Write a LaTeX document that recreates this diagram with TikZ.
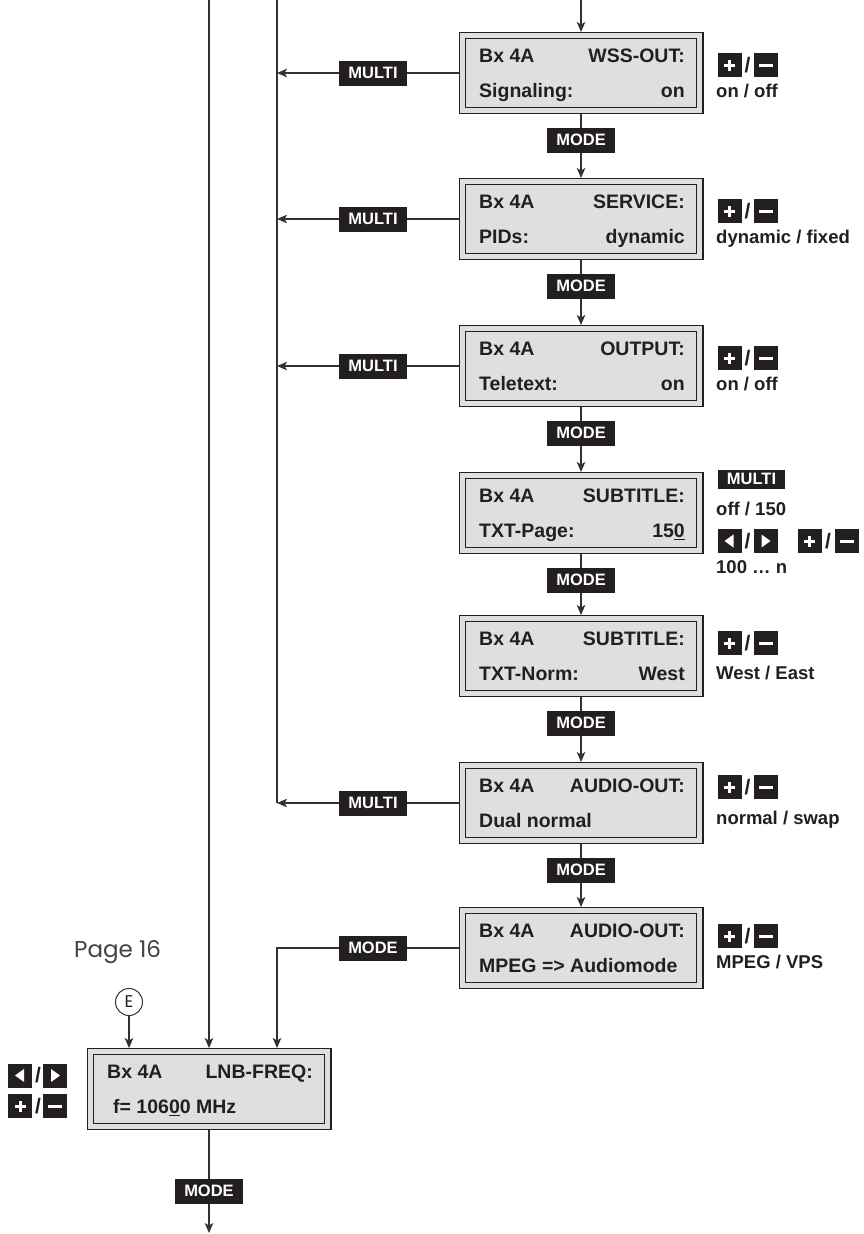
\documentclass[tikz,border=0pt]{standalone}
\usepackage{fontspec}
\setmainfont{Liberation Sans}
\newfontfamily\pagefont{Poppins}
\usetikzlibrary{arrows.meta,calc}
\definecolor{lcdgray}{RGB}{222,223,225}
\definecolor{ink}{RGB}{35,31,32}
\definecolor{linec}{RGB}{50,50,50}
\newcommand\myul[1]{\setbox0\hbox{#1}\rlap{\rule[-3.2pt]{\wd0}{1.6pt}}\box0\relax}
\newcommand\lcdbox[7]{%
 \node[lcd] (#1) at (#2,{#3+41}) {};
 \node[lcdtxt,anchor=base west] (#1a) at ({#2-102},{#3+30}) {#4};
 \node[lcdtxt,anchor=base east] (#1b) at ({#2+104},{#3+30}) {#5};
 \node[lcdtxt,anchor=base west] (#1c) at ({#2-102},{#3+65}) {#6};
 \node[lcdtxt,anchor=base east] (#1d) at ({#2+104},{#3+65}) {#7};}
\newcommand\pmkeys[2]{%
 \node[pluskey] (#1p) at (729.5,#2) {};
 \node[slash] (#1s) at (747.5,#2) {/};
 \node[minuskey] (#1m) at (765.5,#2) {};}
\newcommand\pbc{path picture bounding box.center}
\begin{document}
\begin{tikzpicture}[x=1pt,y=-1pt,
 lcd/.style={draw=ink, line width=1.1pt, double=lcdgray, double distance=5pt, fill=lcdgray,
   minimum width=237.8pt, minimum height=74.8pt, inner sep=0pt, outer sep=3.6pt},
 lcdtxt/.style={font=\bfseries\fontsize{19.5}{20}\selectfont, text=ink, inner sep=0pt},
 key/.style={fill=ink, text=white, font=\bfseries\fontsize{16.5}{17}\selectfont,
   minimum width=68pt, minimum height=25pt, inner sep=0pt},
 ikey/.style={fill=ink, minimum width=24pt, minimum height=24pt, inner sep=0pt},
 pluskey/.style={ikey, path picture={
   \fill[white] ([xshift=-5.5pt,yshift=-1.5pt]\pbc) rectangle ([xshift=5.5pt,yshift=1.5pt]\pbc);
   \fill[white] ([xshift=-1.5pt,yshift=-5.5pt]\pbc) rectangle ([xshift=1.5pt,yshift=5.5pt]\pbc);}},
 minuskey/.style={ikey, path picture={
   \fill[white] ([xshift=-7pt,yshift=-1.5pt]\pbc) rectangle ([xshift=7pt,yshift=1.5pt]\pbc);}},
 leftkey/.style={ikey, path picture={
   \fill[white] ([xshift=4pt,yshift=-6.5pt]\pbc) -- ([xshift=4pt,yshift=6.5pt]\pbc) -- ([xshift=-5pt]\pbc) -- cycle;}},
 rightkey/.style={ikey, path picture={
   \fill[white] ([xshift=-4pt,yshift=-6.5pt]\pbc) -- ([xshift=-4pt,yshift=6.5pt]\pbc) -- ([xshift=5pt]\pbc) -- cycle;}},
 slash/.style={font=\bfseries\fontsize{21}{21}\selectfont, text=ink, inner sep=0pt},
 hint/.style={font=\bfseries\fontsize{18.5}{19}\selectfont, text=ink, inner sep=0pt, anchor=base west},
 ln/.style={draw=linec, line width=1.2pt},
 arr/.style={ln, -{Stealth[length=10pt,width=8.5pt,inset=2.5pt]}}]
\useasboundingbox[fill=white] (0,0) rectangle (863,1234);

% LCD boxes
\lcdbox{b1}{581}{32}{Bx 4A}{WSS-OUT:}{Signaling:}{on}
\lcdbox{b2}{581}{178}{Bx 4A}{SERVICE:}{PIDs:}{dynamic}
\lcdbox{b3}{581}{325}{Bx 4A}{OUTPUT:}{Teletext:}{on}
\lcdbox{b4}{581}{472}{Bx 4A}{SUBTITLE:}{TXT-Page:}{15\myul{0}}
\lcdbox{b5}{581}{615}{Bx 4A}{SUBTITLE:}{TXT-Norm:}{West}
\lcdbox{b6}{581}{762}{Bx 4A}{AUDIO-OUT:}{Dual normal}{}
\lcdbox{b7}{581}{907}{Bx 4A}{AUDIO-OUT:}{MPEG => Audiomode}{}
\lcdbox{lnb}{209}{1048}{Bx 4A}{LNB-FREQ:}{\hspace{6pt}f= 106\myul{0}0 MHz}{}

% coordinates
\coordinate (tr) at (581,0);
\coordinate (vt) at (277,0);
\coordinate (ft) at (209,0);
\coordinate (c7) at (277,948);
\coordinate (bt) at (209,1233);

% main vertical chain
\draw[arr] (tr) -- (b1.north);
\draw[arr] (b1) -- (b2);
\draw[arr] (b2) -- (b3);
\draw[arr] (b3) -- (b4);
\draw[arr] (b4) -- (b5);
\draw[arr] (b5) -- (b6);
\draw[arr] (b6) -- (b7);

% MULTI return line
\draw[ln] (vt) -- (vt |- b6.west);
\draw[arr] (b1.west) -- (b1.west -| vt);
\draw[arr] (b2.west) -- (b2.west -| vt);
\draw[arr] (b3.west) -- (b3.west -| vt);
\draw[arr] (b6.west) -- (b6.west -| vt);

% MODE from last box to LNB
\draw[arr] (b7.west) -- (c7) -- (c7 |- lnb.north);
% far left line
\draw[arr] (ft) -- (ft |- lnb.north);
% E marker
\node[circle, draw=linec, line width=1pt, minimum size=27pt, inner sep=0pt,
  font=\pagefont\fontsize{17}{17}\selectfont, text=ink] (E) at (129,1002) {E};
\draw[arr] (E) -- (E |- lnb.north);
\node[font=\pagefont\fontsize{23}{23}\selectfont, text=ink!85, anchor=west, inner sep=0pt] (pg) at (74,952) {Page 16};
% bottom
\draw[arr] (lnb) -- (bt);

% keys on connectors
\node[key] (mu1) at (373,73) {MULTI};
\node[key] (mu2) at (373,219) {MULTI};
\node[key] (mu3) at (373,366) {MULTI};
\node[key] (mu6) at (373,803) {MULTI};
\node[key] (mo1) at (581,140) {MODE};
\node[key] (mo2) at (581,286) {MODE};
\node[key] (mo3) at (581,433) {MODE};
\node[key] (mo4) at (581,580) {MODE};
\node[key] (mo5) at (581,723) {MODE};
\node[key] (mo6) at (581,870) {MODE};
\node[key] (mo7) at (373,948) {MODE};
\node[key] (mo8) at (209,1191) {MODE};

% right-side hints
\pmkeys{h1}{65}
\node[hint] (t1) at (716,97) {on / off};
\pmkeys{h2}{211}
\node[hint] (t2) at (716,243) {dynamic / fixed};
\pmkeys{h3}{358}
\node[hint] (t3) at (716,390) {on / off};
\node[key, minimum width=67pt, minimum height=19pt] (h4k) at (751.5,479) {MULTI};
\node[hint] (t4) at (716,515) {off / 150};
\node[leftkey] (h4l) at (729.5,541) {};
\node[slash] (h4s) at (747.5,541) {/};
\node[rightkey] (h4r) at (765.5,541) {};
\node[pluskey] (h4p) at (809.5,541) {};
\node[slash] (h4s2) at (828,541) {/};
\node[minuskey] (h4m) at (846.5,541) {};
\node[hint] (t4b) at (716,573) {100 … n};
\pmkeys{h5}{643}
\node[hint] (t5) at (716,679) {West / East};
\pmkeys{h6}{787}
\node[hint] (t6) at (716,824) {normal / swap};
\pmkeys{h7}{936}
\node[hint] (t7) at (716,968) {MPEG / VPS};

% left-side hints for LNB
\node[leftkey] (l1) at (20,1075.5) {};
\node[slash] (l1s) at (38,1075.5) {/};
\node[rightkey] (l2) at (55,1075.5) {};
\node[pluskey] (l3) at (20,1106) {};
\node[slash] (l3s) at (38,1106) {/};
\node[minuskey] (l4) at (55,1106) {};
\end{tikzpicture}
\end{document}
